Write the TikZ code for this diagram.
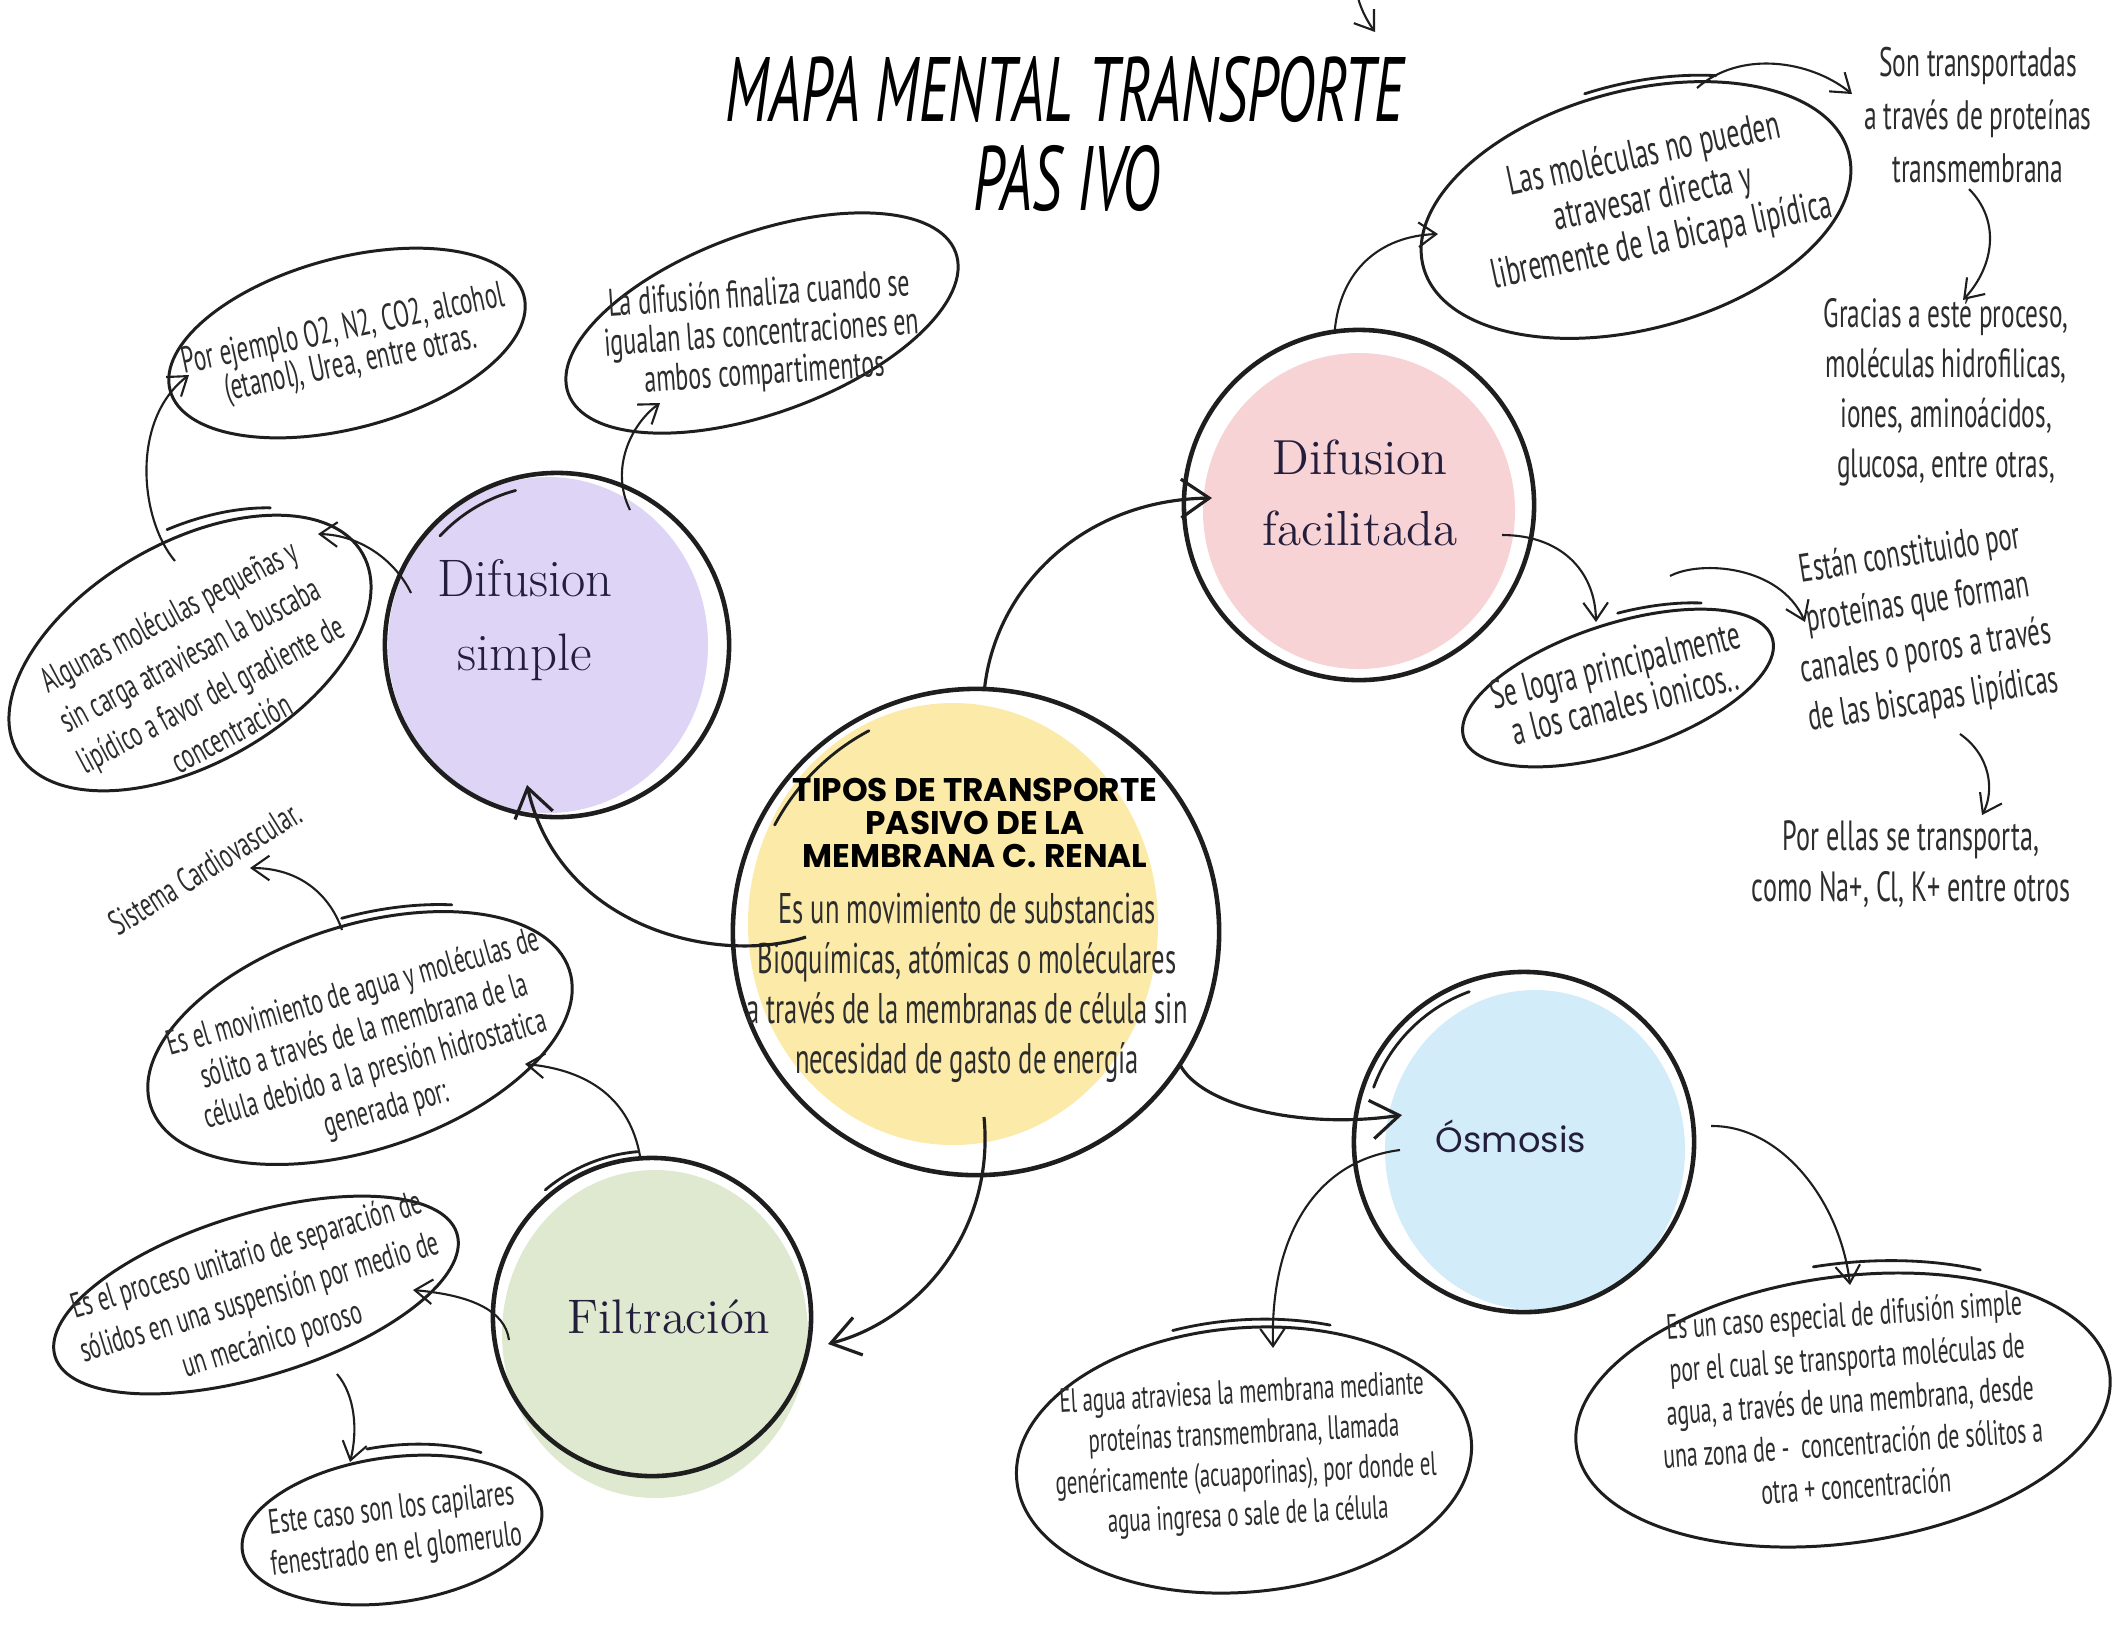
\documentclass[tikz,border=0pt]{standalone}
\usepackage{fontspec}
\usetikzlibrary{shapes.geometric,arrows.meta,calc}
\newfontfamily\hand[FakeStretch=0.62]{PT Sans}
\newfontfamily\brush[FakeStretch=0.63]{PT Sans}
\newfontfamily\geo{Poppins}
\definecolor{ink}{RGB}{30,30,30}
\definecolor{txt}{RGB}{45,45,45}
\definecolor{navy}{RGB}{35,30,60}
\definecolor{lilac}{RGB}{221,212,246}
\definecolor{rosa}{RGB}{248,211,214}
\definecolor{amar}{RGB}{251,234,168}
\definecolor{celes}{RGB}{211,236,250}
\definecolor{verde}{RGB}{222,233,207}
\newcommand{\spurarc}[6]{%
  \begin{scope}[shift={(#1.center)},rotate=#2]
    \draw[spurline] (#5:#3 and #4) arc[start angle=#5,end angle=#6,x radius=#3,y radius=#4];
  \end{scope}}
\begin{document}
\begin{tikzpicture}[x=0.01cm,y=-0.01cm,
  bub/.style={ellipse,draw=ink,line width=0.85pt,inner sep=0pt,outer sep=0pt},
  ring/.style={circle,draw=ink,line width=1.3pt,inner sep=0pt,outer sep=0pt},
  spurline/.style={draw=ink,line width=0.8pt,line cap=round},
  htext/.style={text=txt,align=center,inner sep=0pt},
  ctext/.style={text=navy,align=center,inner sep=0pt},
  arr/.style={draw=ink,line width=0.6pt,-{Straight Barb[length=5pt,width=7pt]}},
  bigarr/.style={draw=ink,line width=0.9pt,-{Straight Barb[length=8pt,width=11pt]}}]
\useasboundingbox (0,0) rectangle (2112,1632);
\fill[white] (0,0) rectangle (2112,1632);
% colour fills
\fill[lilac] (548,645) ellipse[x radius=160,y radius=168];
\fill[rosa] (1359,511) ellipse[x radius=156,y radius=158];
\fill[amar] (953,924) ellipse[x radius=205,y radius=221];
\fill[celes] (1535,1150) ellipse[x radius=150,y radius=160];
\fill[verde] (655,1334) ellipse[x radius=153,y radius=164];
% circles
\node[ring,minimum size=3.44cm] (ds) at (557,645) {};
\node[ring,minimum size=3.50cm] (df) at (1359,505) {};
\node[ring,minimum size=4.86cm] (cen) at (976,932) {};
\node[ring,minimum size=3.40cm] (osm) at (1524,1142) {};
\node[ring,minimum size=3.18cm] (fil) at (652,1317) {};
\spurarc{ds}{0}{160}{160}{-105}{-137}
\spurarc{cen}{0}{228}{228}{-118}{-152}
\spurarc{osm}{0}{160}{160}{-110}{-160}
\spurarc{fil}{0}{166}{166}{-95}{-130}
% circle labels
\node[ctext,font=\fontsize{15}{21}\selectfont] (dsl) at (525,620) {Difusion\\simple};
\node[ctext,font=\fontsize{14}{20}\selectfont] (dfl) at (1360,493) {Difusion\\facilitada};
\node[ctext,font=\fontsize{13.8}{16}\selectfont] (filt) at (669,1317) {Filtración};
\node[ctext,font=\geo\fontsize{10}{12}\selectfont] (osml) at (1511,1136) {Ósmosis};
% central
\node[htext,text=black,font=\geo\bfseries\fontsize{9.3}{9.5}\selectfont] (ct) at (975,823) {TIPOS DE TRANSPORTE\\PASIVO DE LA\\MEMBRANA C. RENAL};
\node[htext,font=\hand\fontsize{12.2}{14.2}\selectfont] (cb) at (967,988) {Es un movimiento de substancias\\Bioquímicas, atómicas o moléculares\\a través de la membranas de célula sin\\necesidad de gasto de energía};
% title
\node[htext,text=black,font=\brush\itshape\fontsize{26}{26}\selectfont] (title) at (1065,89) {MAPA MENTAL TRANSPORTE};
\node[htext,text=black,font=\brush\itshape\fontsize{26}{26}\selectfont] (title2) at (1067,178) {PAS\,IVO};
% ellipses
\node[bub,minimum width=3.66cm,minimum height=1.70cm,rotate=15] (epor) at (347,343) {};
\node[bub,minimum width=3.98cm,minimum height=2.20cm,rotate=30] (ealg) at (190,653) {};
\node[bub,minimum width=4.12cm,minimum height=1.80cm,rotate=20] (elad) at (762,323) {};
\node[bub,minimum width=4.40cm,minimum height=2.38cm,rotate=15] (elm) at (1636,210) {};
\node[bub,minimum width=3.24cm,minimum height=1.28cm,rotate=18] (esl) at (1618,688) {};
\node[bub,minimum width=4.40cm,minimum height=2.24cm,rotate=18] (emov) at (360,1038) {};
\node[bub,minimum width=4.20cm,minimum height=1.62cm,rotate=17] (epro) at (256,1295) {};
\node[bub,minimum width=3.02cm,minimum height=1.45cm,rotate=8] (ecas) at (392,1530) {};
\node[bub,minimum width=4.56cm,minimum height=2.64cm,rotate=5] (eagu) at (1244,1460) {};
\node[bub,minimum width=5.38cm,minimum height=2.66cm,rotate=8] (eesp) at (1843,1410) {};
\spurarc{ealg}{30}{201}{121}{-78}{-45}
\spurarc{elm}{15}{224}{126}{-95}{-60}
\spurarc{esl}{18}{164}{72}{-82}{-50}
\spurarc{emov}{18}{224}{120}{-85}{-55}
\spurarc{ecas}{8}{154}{84}{-95}{-50}
\spurarc{eagu}{5}{231}{140}{-105}{-65}
\spurarc{eesp}{8}{271}{146}{-92}{-55}
% texts
\node[htext,rotate=12,font=\hand\fontsize{10.6}{10}\selectfont] (tpor) at (347,348) {Por ejemplo O2, N2, CO2, alcohol\\(etanol), Urea, entre otras.};
\node[htext,rotate=28,font=\hand\fontsize{10}{12.6}\selectfont] (talg) at (200,674) {Algunas moléculas pequeñas y\\sin carga atraviesan la buscaba\\lipídico a favor del gradiente de\\concentración};
\node[htext,rotate=4,font=\hand\fontsize{11}{11.2}\selectfont] (tlad) at (762,335) {La difusión finaliza cuando se\\igualan las concentraciones en\\ambos compartimentos};
\node[htext,rotate=12,font=\hand\fontsize{11.8}{12.5}\selectfont] (tlm) at (1653,199) {Las moléculas no pueden\\atravesar directa y\\libremente de la bicapa lipídica};
\node[htext,font=\hand\fontsize{11.7}{15}\selectfont] (tson) at (1978,115) {Son transportadas\\a través de proteínas\\transmembrana};
\node[htext,font=\hand\fontsize{11.6}{14.2}\selectfont] (tgra) at (1946,392) {Gracias a esté proceso,\\moléculas hidrofilicas,\\iones, aminoácidos,\\glucosa, entre otras,};
\node[htext,rotate=9,font=\hand\fontsize{11.3}{14}\selectfont] (test) at (1922,628) {Están constituido por\\proteínas que forman\\canales o poros a través\\de las biscapas lipídicas};
\node[htext,font=\hand\fontsize{12}{14.5}\selectfont] (tpe) at (1911,864) {Por ellas se transporta,\\como Na+, Cl, K+ entre otros};
\node[htext,rotate=14,font=\hand\fontsize{11.5}{11.4}\selectfont] (tsl) at (1620,684) {Se logra principalmente\\a los canales ionicos..};
\node[htext,rotate=16,font=\hand\fontsize{10}{11.4}\selectfont] (tmov) at (370,1052) {Es el movimiento de agua y moléculas de\\sólito a través de la membrana de la\\célula debido a la presión hidrostatica\\generada por:};
\node[htext,rotate=32,font=\hand\fontsize{10}{12}\selectfont] (tsis) at (205,868) {Sistema Cardiovascular.};
\node[htext,rotate=17,font=\hand\fontsize{10}{12.5}\selectfont] (tpro) at (260,1299) {Es el proceso unitario de separación de\\sólidos en una suspensión por medio de\\un mecánico poroso};
\node[htext,rotate=7,font=\hand\fontsize{10}{11.7}\selectfont] (tcas) at (394,1531) {Este caso son los capilares\\fenestrado en el glomerulo};
\node[htext,rotate=3,font=\hand\fontsize{9.6}{11.6}\selectfont] (tagu) at (1245,1456) {El agua atraviesa la membrana mediante\\proteínas transmembrana, llamada\\genéricamente (acuaporinas), por donde el\\agua ingresa o sale de la célula};
\node[htext,rotate=4,font=\hand\fontsize{10}{12.2}\selectfont] (tesp) at (1850,1400) {Es un caso especial de difusión simple\\por el cual se transporta moléculas de\\agua, a través de una membrana, desde\\una zona de -\ \ concentración de sólitos a\\otra + concentración};
% connectors from the centre
\draw[bigarr] (cen.88) .. controls (995,590) and (1080,500) .. ($(df.center)+(-147,-7)$);
\draw[bigarr] ($(cen.center)+(-170,5)$) .. controls (720,965) and (560,930) .. ($(ds.center)+(-30,140)$);
\draw[bigarr] (cen.-33) .. controls (1200,1105) and (1300,1130) .. ($(osm.center)+(-122,-27)$);
\draw[bigarr] ($(cen.center)+(8,185)$) .. controls (995,1230) and (920,1320) .. ($(fil.center)+(176,27)$);
% other connectors
\draw[arr] ($(ds.center)+(73,-135)$) .. controls (610,470) and (630,425) .. ($(elad.center)+(-102,80)$);
\draw[arr] ($(ds.center)+(-146,-52)$) .. controls (395,560) and (360,535) .. ($(ealg.center)+(128,-119)$);
\draw[arr] ($(ealg.center)+(-15,-92)$) .. controls (140,520) and (130,420) .. ($(epor.center)+(-158,32)$);
\draw[arr] ($(fil.center)+(-12,-161)$) .. controls (630,1100) and (590,1070) .. ($(emov.center)+(165,26)$);
\draw[arr] ($(emov.center)+(-18,-108)$) .. controls (330,895) and (300,868) .. ($(tsis.center)+(45,0)$);
\draw[arr] ($(fil.center)+(-143,23)$) .. controls (505,1310) and (470,1295) .. ($(epro.center)+(157,-5)$);
\draw[arr] ($(epro.center)+(81,79)$) .. controls (355,1395) and (358,1430) .. ($(ecas.center)+(-42,-68)$);
\draw[arr] (df.98) .. controls (1340,270) and (1380,236) .. ($(elm.center)+(-198,24)$);
\draw[arr] ($(elm.center)+(61,-122)$) .. controls (1740,50) and (1810,60) .. ($(tson.center)+(-126,-21)$);
\draw[arr] ($(tson.center)+(-9,74)$) .. controls (2000,220) and (1995,265) .. ($(tgra.center)+(17,-92)$);
\draw[arr] ($(df.center)+(143,30)$) .. controls (1560,535) and (1595,570) .. ($(esl.center)+(-22,-66)$);
\draw[arr] ($(esl.center)+(52,-112)$) .. controls (1700,560) and (1780,565) .. ($(test.center)+(-117,-6)$);
\draw[arr] ($(test.center)+(38,106)$) .. controls (1990,755) and (1995,790) .. ($(tpe.center)+(71,-49)$);
\draw[arr] ($(osm.center)+(-124,8)$) .. controls (1320,1160) and (1270,1230) .. ($(eagu.center)+(29,-112)$);
\draw[arr] ($(osm.center)+(187,-16)$) .. controls (1780,1125) and (1840,1200) .. ($(eesp.center)+(7,-125)$);
\coordinate (topA) at (1358,-2);
\coordinate (topB) at (1375,32);
\draw[arr] (topA) .. controls (1362,12) and (1368,22) .. (topB);
\end{tikzpicture}
\end{document}
